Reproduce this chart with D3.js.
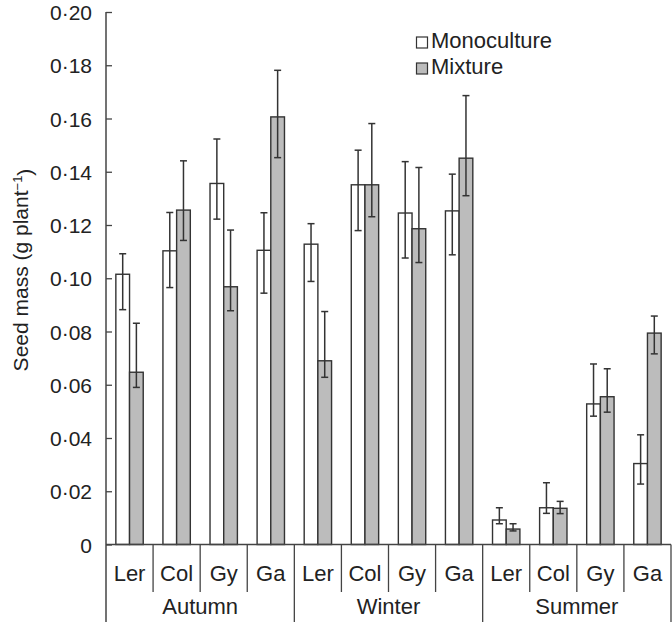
<!DOCTYPE html>
<html><head><meta charset="utf-8">
<script src="https://cdn.jsdelivr.net/npm/d3@7/dist/d3.min.js"></script>
<style>body{margin:0;background:#fff}svg{display:block}text{font-family:"Liberation Sans",Arial,sans-serif;fill:#222}</style>
</head><body><div id="chart"></div>
<script>
const seasons = ["Autumn","Winter","Summer"];
const genotypes = ["Ler","Col","Gy","Ga"];
const seriesNames = ["Monoculture","Mixture"];
const yTicks = [0,0.02,0.04,0.06,0.08,0.10,0.12,0.14,0.16,0.18,0.20];
const mono   = [0.1015,0.1103,0.1356,0.1105, 0.1128,0.1351,0.1245,0.1253, 0.0092,0.0138,0.0528,0.0304];
const monoUp = [0.1092,0.1247,0.1523,0.1246, 0.1205,0.1481,0.1438,0.1391, 0.0138,0.0232,0.0678,0.0412];
const monoLo = [0.0882,0.0965,0.1222,0.0944, 0.0988,0.1179,0.1076,0.1088, 0.0078,0.0117,0.0482,0.0227];
const mix    = [0.0647,0.1256,0.0968,0.1606, 0.0690,0.1351,0.1186,0.1451, 0.0058,0.0136,0.0555,0.0794];
const mixUp  = [0.0831,0.1441,0.1181,0.1781, 0.0875,0.1581,0.1416,0.1686, 0.0078,0.0162,0.0660,0.0858];
const mixLo  = [0.0590,0.1142,0.0878,0.1453, 0.0628,0.1231,0.1059,0.1310, 0.0051,0.0116,0.0497,0.0716];

const W=672,H=622;
const svg=d3.select("#chart").append("svg").attr("width",W).attr("height",H);
const axisCol="#444", barStroke="#333", grey="#bcbcbc";

const cats=[];
seasons.forEach(s=>genotypes.forEach(g=>cats.push(s+"|"+g)));
const x=d3.scaleBand().domain(cats).range([106,671]).padding(0);
const xs=d3.scaleBand().domain(seriesNames).range([0,x.bandwidth()]).paddingInner(0).paddingOuter(0.72);
const y=d3.scaleLinear().domain([0,0.2]).range([544.5,12]);

const data=[];
cats.forEach((c,i)=>{
  data.push({c,s:"Monoculture",v:mono[i],up:monoUp[i],lo:monoLo[i]});
  data.push({c,s:"Mixture",v:mix[i],up:mixUp[i],lo:mixLo[i]});
});

// bars
svg.append("g").selectAll("rect").data(data).join("rect")
  .attr("x",d=>x(d.c)+xs(d.s))
  .attr("y",d=>y(d.v))
  .attr("width",xs.bandwidth())
  .attr("height",d=>y(0)-y(d.v))
  .attr("fill",d=>d.s==="Monoculture"?"#fff":grey)
  .attr("stroke",barStroke).attr("stroke-width",1.4);

// error bars
const eb=svg.append("g").attr("stroke","#333").attr("stroke-width",1.5);
data.forEach(d=>{
  const cx=x(d.c)+xs(d.s)+xs.bandwidth()/2;
  eb.append("line").attr("x1",cx).attr("x2",cx).attr("y1",y(d.up)).attr("y2",y(d.lo));
  eb.append("line").attr("x1",cx-3.5).attr("x2",cx+3.5).attr("y1",y(d.up)).attr("y2",y(d.up));
  eb.append("line").attr("x1",cx-3.5).attr("x2",cx+3.5).attr("y1",y(d.lo)).attr("y2",y(d.lo));
});

// y axis
const yAxis=d3.axisRight(y).tickValues(yTicks).tickSize(6)
  .tickFormat(d=>d===0?"0":d3.format(".2f")(d).replace(".","\u00B7"));
const gy=svg.append("g").attr("transform","translate(106,0)").call(yAxis);
gy.select(".domain").remove();
gy.selectAll(".tick line").attr("stroke",axisCol).attr("stroke-width",1.3);
gy.selectAll(".tick text").attr("x",-14).attr("text-anchor","end").attr("dy","0.36em")
  .style("font-size","21px").attr("fill","#222");
svg.append("line").attr("x1",106).attr("x2",106).attr("y1",12).attr("y2",622)
  .attr("stroke",axisCol).attr("stroke-width",1.5);

// baseline
svg.append("line").attr("x1",106).attr("x2",671).attr("y1",y(0)).attr("y2",y(0))
  .attr("stroke",axisCol).attr("stroke-width",1.5);

// category separators and labels
cats.forEach((c,i)=>{
  const x1=x(c)+x.bandwidth();
  const isSeason=(i%4===3);
  svg.append("line").attr("x1",x1).attr("x2",x1).attr("y1",y(0)).attr("y2",isSeason?622:592)
    .attr("stroke",axisCol).attr("stroke-width",1.3);
  svg.append("text").attr("x",x(c)+x.bandwidth()/2).attr("y",581)
    .attr("text-anchor","middle").style("font-size","22px").text(c.split("|")[1]);
});
seasons.forEach(s=>{
  const xa=x(s+"|"+genotypes[0]), xb=x(s+"|"+genotypes[3])+x.bandwidth();
  svg.append("text").attr("x",(xa+xb)/2).attr("y",614).attr("text-anchor","middle")
    .style("font-size","22px").text(s);
});

// y title
svg.append("text").attr("transform","translate(28,270) rotate(-90)").attr("text-anchor","middle")
  .style("font-size","21px")
  .call(t=>{t.append("tspan").text("Seed mass (g plant");
    t.append("tspan").attr("dy","-0.5em").style("font-size","13px").text("\u22121");
    t.append("tspan").attr("dy","0.5em").text(")");});

// legend
const leg=svg.append("g");
seriesNames.forEach((n,i)=>{
  const ly=37+i*26;
  leg.append("rect").attr("x",416.5).attr("y",ly).attr("width",11).attr("height",11)
    .attr("fill",i===0?"#fff":grey).attr("stroke",barStroke).attr("stroke-width",1.2);
  leg.append("text").attr("x",431).attr("y",ly+11).style("font-size","22px").text(n);
});
</script></body></html>
